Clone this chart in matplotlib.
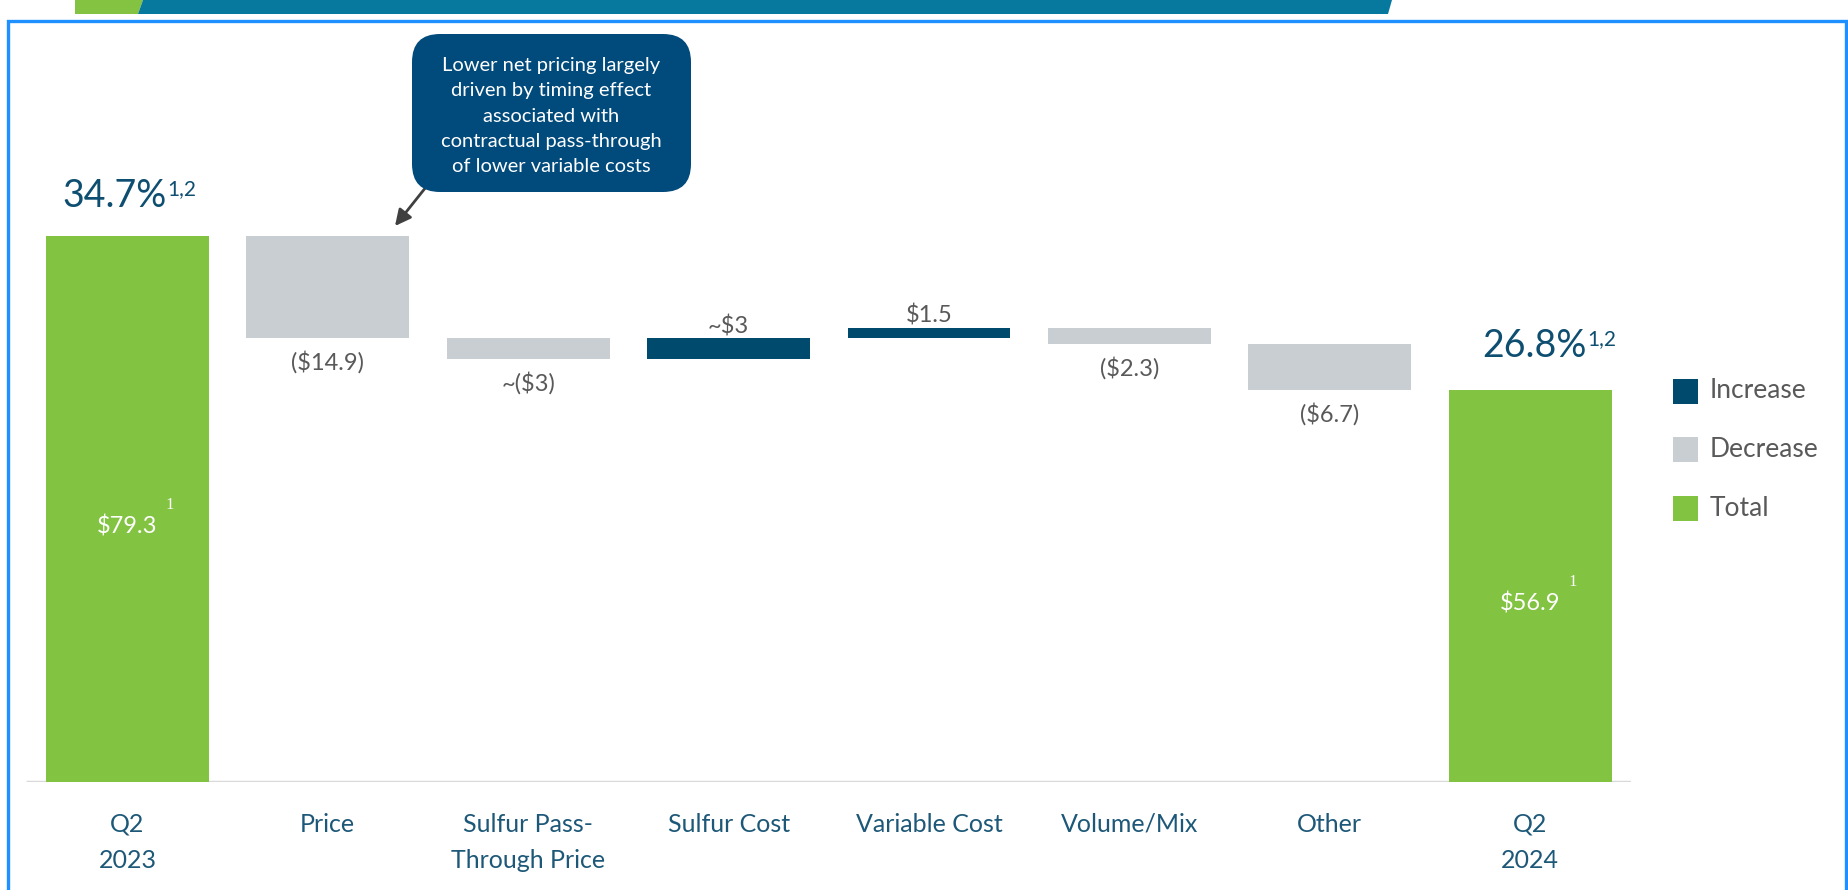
import matplotlib
matplotlib.use("Agg")
import matplotlib.pyplot as plt
from matplotlib.patches import Rectangle, FancyBboxPatch, Polygon
from matplotlib.transforms import IdentityTransform, blended_transform_factory
import numpy as np

# ---------------- data ----------------
categories = ["Q2\n2023", "Price", "Sulfur Pass-\nThrough Price", "Sulfur Cost",
              "Variable Cost", "Volume/Mix", "Other", "Q2\n2024"]
start_value = 79.3
deltas = [-14.9, -3.0, 3.0, 1.5, -2.3, -6.7]
end_value = 56.9
value_labels = ["$79.3", "($14.9)", "~($3)", "~$3", "$1.5", "($2.3)", "($6.7)", "$56.9"]
total_footnote = "1"
margin_labels = ["34.7%", "26.8%"]
margin_footnote = "1,2"
legend_labels = ["Increase", "Decrease", "Total"]
annotation_text = ("Lower net pricing largely\ndriven by timing effect\nassociated with\n"
                   "contractual pass-through\nof lower variable costs")

# ---------------- style ----------------
GREEN = "#82C341"
GRAY = "#C9CED3"
NAVY = "#004A6E"
BOX = "#014A7C"
CAT_COLOR = "#1D5878"
VAL_COLOR = "#595959"
PCT_COLOR = "#0E4E70"
FONT = ["Lato", "DejaVu Sans"]

W, H = 1849, 890
fig = plt.figure(figsize=(W / 100, H / 100), dpi=100)
fig.patch.set_facecolor("white")

def fx(x):
    return x / W

def fy(y):
    return 1 - y / H

PX_PER_UNIT = 6.89
YMAX = 110
base_px = 782
ax = fig.add_axes([fx(26), fy(base_px), (1631 - 26) / W, YMAX * PX_PER_UNIT / H])
ax.set_xlim(-0.506, 7.503)
ax.set_ylim(0, YMAX)
ax.axis("off")

# ---------------- waterfall bars ----------------
n = len(categories)
x = np.arange(n)
bottoms, heights, colors = [0.0], [start_value], [GREEN]
cum = start_value
for d in deltas:
    new = cum + d
    bottoms.append(min(cum, new))
    heights.append(abs(d))
    colors.append(NAVY if d > 0 else GRAY)
    cum = new
bottoms.append(0.0)
heights.append(end_value)
colors.append(GREEN)
bottoms = np.array(bottoms)
heights = np.array(heights)

ax.bar(x, heights, bottom=bottoms, width=0.813, color=colors, edgecolor="none", zorder=2)
ax.plot([-0.506, 7.503], [0, 0], color="#D9D9D9", lw=2.5, zorder=1, solid_capstyle="butt")

# ---------------- value labels ----------------
for i in range(n):
    top = bottoms[i] + heights[i]
    if i == 0 or i == n - 1:
        yc = heights[i] / 2 - 2.5
        ax.text(x[i], yc, value_labels[i], ha="center", va="center", color="white",
                fontsize=17, family=FONT, zorder=3)
        ax.annotate(total_footnote, xy=(x[i], yc), xytext=(42, 21), textcoords="offset pixels",
                    ha="center", va="center", color="white", fontsize=12,
                    family=["Liberation Serif", "DejaVu Serif"], zorder=3)
    elif deltas[i - 1] < 0:
        ax.annotate(value_labels[i], xy=(x[i], bottoms[i]), xytext=(0, -24),
                    textcoords="offset pixels", ha="center", va="center",
                    color=VAL_COLOR, fontsize=17, family=FONT)
    else:
        ax.annotate(value_labels[i], xy=(x[i], top), xytext=(0, 12),
                    textcoords="offset pixels", ha="center", va="center",
                    color=VAL_COLOR, fontsize=17, family=FONT)

# ---------------- margin labels ----------------
pct_dx = [-13, 4]
pct_dy = [40, 44]
for j, idx in enumerate([0, n - 1]):
    top = heights[idx]
    ax.annotate(margin_labels[j], xy=(x[idx], top), xytext=(pct_dx[j], pct_dy[j]),
                textcoords="offset pixels", ha="center", va="center",
                color=PCT_COLOR, fontsize=27, family=FONT)
    ax.annotate(margin_footnote, xy=(x[idx], top), xytext=(pct_dx[j] + 53, pct_dy[j] + 7),
                textcoords="offset pixels", ha="left", va="center",
                color=PCT_COLOR, fontsize=15, family=FONT)

# ---------------- category labels ----------------
trans = blended_transform_factory(ax.transData, IdentityTransform())
for i, cat in enumerate(categories):
    for k, line in enumerate(cat.split("\n")):
        ax.text(x[i], H - (824 + 37 * k), line, transform=trans, ha="center",
                va="center", color=CAT_COLOR, fontsize=18, family=FONT)

# ---------------- legend (manual) ----------------
leg_colors = [NAVY, GRAY, GREEN]
for k, (lab, c) in enumerate(zip(legend_labels, leg_colors)):
    yc = 391 + 58.5 * k
    fig.add_artist(Rectangle((1673, H - yc - 12.5), 25, 25, transform=IdentityTransform(),
                             facecolor=c, edgecolor="none"))
    fig.text(fx(1710), fy(yc), lab, ha="left", va="center", color=VAL_COLOR,
             fontsize=19, family=FONT)

# ---------------- annotation callout ----------------
fig.add_artist(FancyBboxPatch((412, H - 192), 279, 158,
                              boxstyle="round,pad=0,rounding_size=28",
                              transform=IdentityTransform(), facecolor=BOX,
                              edgecolor="none", zorder=5))
for k, line in enumerate(annotation_text.split("\n")):
    fig.text(fx(551), fy(65 + 25.5 * k), line, ha="center", va="center",
             color="white", fontsize=14.5, family=FONT, zorder=6)
ax.annotate("", xy=(395, H - 226), xycoords="figure pixels",
            xytext=(430, H - 182), textcoords="figure pixels",
            arrowprops=dict(arrowstyle="-|>", color="#404040", lw=2, mutation_scale=24,
                            shrinkA=0, shrinkB=0), zorder=4)

# ---------------- slide decorations ----------------
fig.add_artist(Polygon([[75, H], [143, H], [138, H - 14], [75, H - 14]], closed=True,
                       transform=IdentityTransform(), facecolor="#84C341", edgecolor="none"))
fig.add_artist(Polygon([[143, H], [1392, H], [1388, H - 14], [138, H - 14]], closed=True,
                       transform=IdentityTransform(), facecolor="#07789E", edgecolor="none"))
fig.add_artist(Rectangle((8, -20), 1838, H - 21 + 20, transform=IdentityTransform(),
                         facecolor="none", edgecolor="#1E90FF", lw=2.4))

fig.savefig("out.png", dpi=100, facecolor="white")
